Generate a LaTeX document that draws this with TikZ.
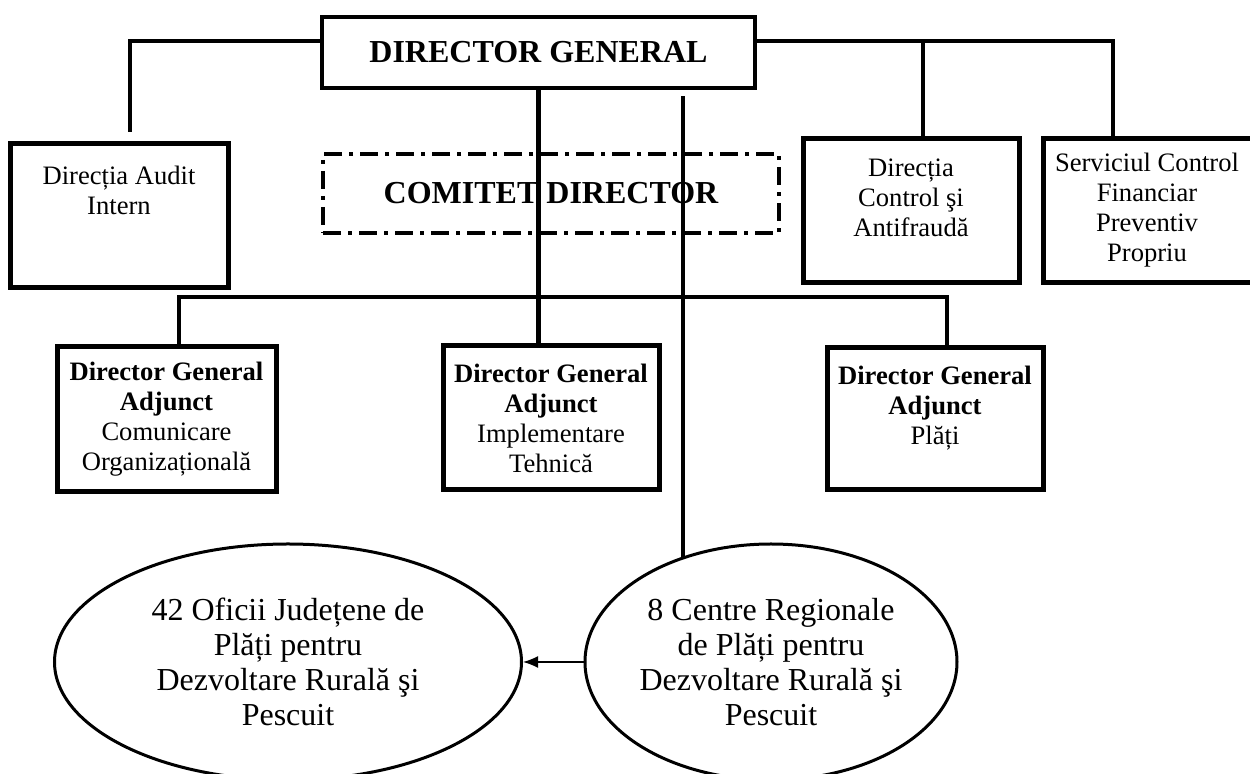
\documentclass[tikz,border=0pt]{standalone}
\usepackage{fontspec}
\setmainfont{Liberation Serif}
\usetikzlibrary{shapes.geometric, arrows.meta}

\begin{document}
\begin{tikzpicture}[x=0.5pt, y=-0.5pt, thick,
    main/.style = {draw, line width=2.5pt, minimum width=108pt, minimum height=72pt, inner sep=0pt, align=center, font=\fontsize{13.3}{15}\selectfont},
    txt/.style = {align=center, font=\fontsize{13.3}{15}\selectfont},
    chief/.style = {main, line width=2.2pt, font=\fontsize{16}{18}\bfseries\selectfont},
    oval/.style = {draw, ellipse, line width=1.5pt, inner sep=0pt, minimum height=118pt, align=center, font=\fontsize{16}{17.6}\selectfont},
    wire/.style = {line width=2.3pt}]

    \useasboundingbox (0,0) rectangle (1250,774);

    \node[chief, minimum width=216.5pt, minimum height=35.5pt] (DG) at (538.5,52.5) {DIRECTOR GENERAL};
    \node[chief, line width=2pt, dash pattern=on 9pt off 3.5pt on 2pt off 3.5pt, minimum width=228pt, minimum height=39.5pt] (CD) at (551,193.5) {COMITET DIRECTOR};

    \node[main, minimum width=109pt] (AUD) at (119,216) {};
    \node[txt] (AUDt) at ([yshift=13pt]AUD.center) {Direcția Audit\\Intern};
    \node[main] (CTR) at (911,210.5) {};
    \node[txt] (CTRt) at ([yshift=6.25pt]CTR.center) {Direcția\\Control şi\\Antifraudă};
    \node[main, minimum width=107pt] (SCF) at (1150,210.5) {};
    \node[txt] (SCFt) at ([xshift=-1.5pt]SCF.center) {Serviciul Control\\Financiar\\Preventiv\\Propriu};

    \node[main, minimum width=109.5pt, minimum height=72.5pt] (DGA1) at (166.5,419.5) {\textbf{Director General}\\\textbf{Adjunct}\\Comunicare\\Organizațională};
    \node[main] (DGA2) at (551,418) {\textbf{Director General}\\\textbf{Adjunct}\\Implementare\\Tehnică};
    \node[main, minimum height=71pt] (DGA3) at (935,419) {};
    \node[txt] (DGA3t) at ([yshift=5.25pt]DGA3.center) {\textbf{Director General}\\\textbf{Adjunct}\\Plăți};

    \node[oval, minimum width=233.5pt] (OJ) at (288,662) {42 Oficii Județene de\\Plăți pentru\\Dezvoltare Rurală şi\\Pescuit};
    \node[oval, minimum width=186pt] (CR) at (771,662) {8 Centre Regionale\\de Plăți pentru\\Dezvoltare Rurală şi\\Pescuit};

    \coordinate (bus1) at (0,41);
    \coordinate (bus2) at (0,297);

    % upper branches
    \draw[wire] (DG.west |- bus1) -| ([xshift=5.5pt, yshift=4.5pt]AUD.north);
    \draw[wire] (DG.east |- bus1) -| ([xshift=-18.5pt]SCF.north);
    \draw[wire] ([xshift=6pt]CTR.north |- bus1) -- ([xshift=6pt]CTR.north);

    % adjuncts
    \draw[wire] (DG.south) -- (DG.south |- DGA2.north);
    \draw[wire] ([xshift=6.25pt]DGA1.north) |- ([xshift=6pt]DGA3.north |- bus2) -- ([xshift=6pt]DGA3.north);

    \draw[line width=1.75pt] ([xshift=72.25pt, yshift=-3pt]DG.south) -- ([xshift=72.25pt]DG.south |- CR.130);
    \draw[-{Latex[length=7.5pt, width=6pt]}, line width=0.75pt] (CR.west) -- (OJ.east);
\end{tikzpicture}
\end{document}
